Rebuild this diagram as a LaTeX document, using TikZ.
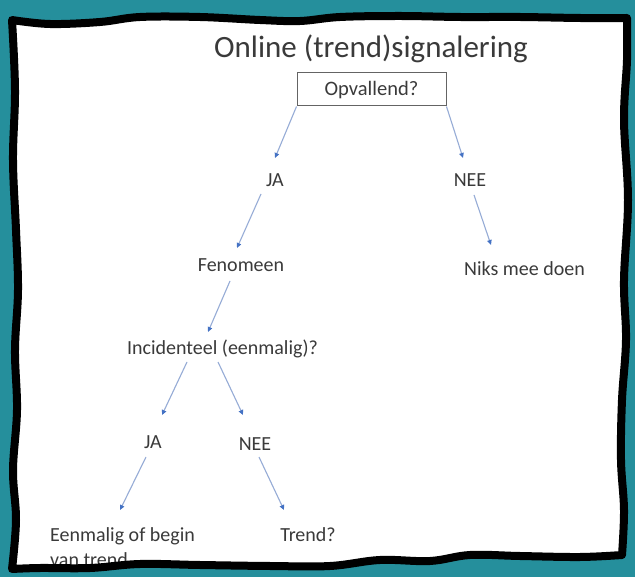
\documentclass[tikz,border=0pt]{standalone}
\usepackage{fontspec}
\setmainfont{Carlito}
\usetikzlibrary{arrows.meta,calc}
\definecolor{teal0}{RGB}{37,143,156}
\definecolor{txt}{RGB}{58,58,58}
\definecolor{arrline}{RGB}{150,172,214}
\definecolor{arrhead}{RGB}{68,114,196}
\definecolor{boxgray}{RGB}{100,100,100}
\begin{document}
\begin{tikzpicture}[x=1pt,y=-1pt,
  lbl/.style={font=\fontsize{20}{24}\selectfont, text=txt, inner sep=0pt, text height=12.8pt, text depth=0pt},
  arr/.style={draw=arrline, line width=1.1pt, -{Triangle[length=5pt,width=4.5pt,color=arrhead]}}]
\def\cardpath{plot[smooth, tension=0.6] coordinates {(12,20) (50,24) (100,22) (140,17) (200,17) (260,20) (300,21) (340,17) (400,16) (460,17) (520,17) (580,18) (627,18)}
  -- plot[smooth, tension=0.6] coordinates {(627,18) (627,60) (624,120) (628,200) (624,280) (626,340) (622,400) (621,460) (624,510) (622,555)}
  -- plot[smooth, tension=0.6] coordinates {(622,555) (580,557) (520,556) (470,555) (430,561) (380,560) (330,566) (270,566) (200,565) (140,564) (90,568) (40,568) (12,569)}
  -- plot[smooth, tension=0.6] coordinates {(12,569) (16,520) (13,470) (17,410) (15,350) (18,290) (16,230) (13,160) (15,90) (12,20)}
  -- cycle}
\useasboundingbox (0,0) rectangle (635,577);
\fill[teal0] (0,0) rectangle (635,577);
\fill[white] \cardpath;

\node[lbl, font=\fontsize{31}{37}\selectfont, text height=20pt] (title) at (371,48) {Online (trend)signalering};
\node[draw=boxgray, line width=1pt, minimum width=149pt, minimum height=33pt, inner sep=0pt] (box) at (371.5,89.5) {};
\node[lbl, font=\fontsize{20.5}{24}\selectfont] (opv) at (box.center) {Opvallend?};

\node[lbl] (ja1) at (275,180) {JA};
\node[lbl] (nee1) at (470,180) {NEE};
\node[lbl] (fen) at (241,265) {Fenomeen};
\node[lbl] (niks) at (524.5,269) {Niks mee doen};
\node[lbl] (inc) at (222.5,348) {Incidenteel (eenmalig)?};
\node[lbl] (ja2) at (153,442) {JA};
\node[lbl] (nee2) at (255,444) {NEE};
\node[lbl, anchor=west] (een) at (50,535) {Eenmalig of begin};
\node[lbl, anchor=west] (van) at (50,560) {van trend};
\node[lbl] (trend) at (308,535) {Trend?};

\draw[arr] (box.south west) -- ($(ja1.center)+(0,-22)$);
\draw[arr] (box.south east) -- ($(nee1.center)+(-7,-22)$);
\draw[arr] ($(ja1.center)+(-14,14)$) -- ($(fen.center)+(-4,-17)$);
\draw[arr] ($(nee1.center)+(4,15)$) -- ($(niks.center)+(-33.5,-24)$);
\draw[arr] ($(fen.center)+(-11,16)$) -- ($(inc.center)+(-14.5,-16)$);
\draw[arr] ($(inc.center)+(-35.5,14)$) -- ($(ja2.center)+(9,-27)$);
\draw[arr] ($(inc.center)+(-4.5,14)$) -- ($(nee2.center)+(-12,-29)$);
\draw[arr] ($(ja2.center)+(-7,15)$) -- ($(een.west)+(70,-25)$);
\draw[arr] ($(nee2.center)+(4,13)$) -- ($(trend.center)+(-24,-25)$);

\draw[black, line width=8pt, line join=round] \cardpath;
\end{tikzpicture}
\end{document}
